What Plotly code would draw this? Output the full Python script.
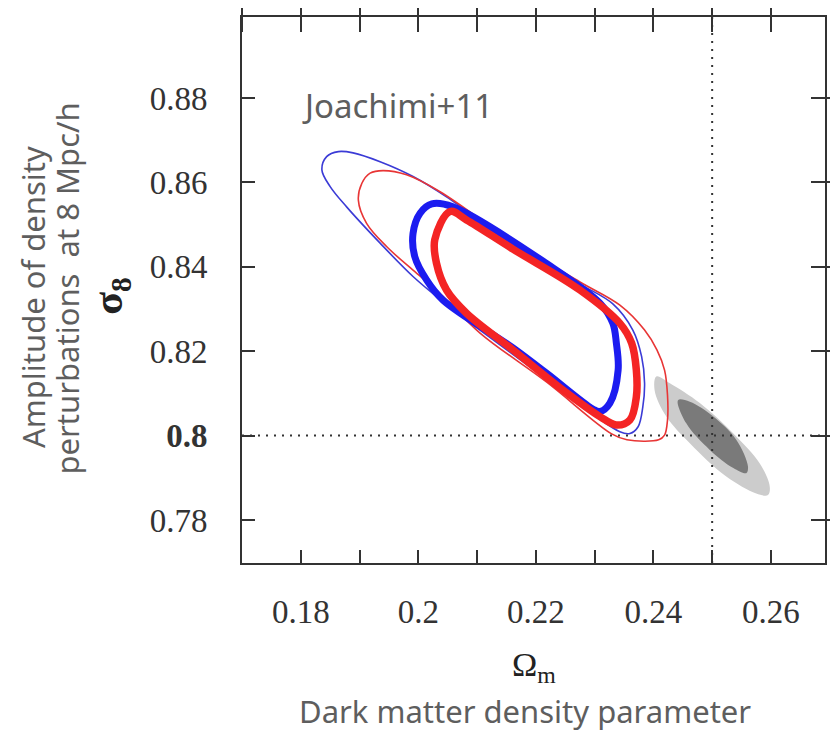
import plotly.graph_objects as go

# ---------------- data ----------------
omega_m_ticks = [0.18, 0.20, 0.22, 0.24, 0.26]
omega_m_ticktext = ["0.18", "0.2", "0.22", "0.24", "0.26"]
sigma8_ticks = [0.78, 0.80, 0.82, 0.84, 0.86, 0.88]
sigma8_ticktext = ["0.78", "<b>0.8</b>", "0.82", "0.84", "0.86", "0.88"]

fiducial_omega_m = 0.25
fiducial_sigma8 = 0.80

# outer (thin) blue contour
blue_outer_om = [0.1836, 0.1844, 0.1864, 0.1889, 0.1935, 0.1991, 0.2048, 0.2161, 0.2275, 0.2331,
                 0.2365, 0.2380, 0.2385, 0.2382, 0.2374, 0.2360, 0.2343, 0.2218, 0.2105, 0.2042,
                 0.1991, 0.1935, 0.1878, 0.1850, 0.1836]
blue_outer_s8 = [0.8629, 0.8661, 0.8673, 0.8670, 0.8649, 0.8614, 0.8566, 0.8454, 0.8359, 0.8312,
                 0.8250, 0.8187, 0.8124, 0.8068, 0.8021, 0.8005, 0.8009, 0.8134, 0.8250, 0.8317,
                 0.8377, 0.8456, 0.8542, 0.8590, 0.8629]

# outer (thin) red contour
red_outer_om = [0.1898, 0.1904, 0.1918, 0.1940, 0.1980, 0.2037, 0.2161, 0.2275, 0.2343, 0.2385,
                0.2406, 0.2419, 0.2424, 0.2424, 0.2419, 0.2409, 0.2355, 0.2329, 0.2218, 0.2105,
                0.2031, 0.1991, 0.1946, 0.1912, 0.1898]
red_outer_s8 = [0.8558, 0.8598, 0.8622, 0.8628, 0.8618, 0.8578, 0.8459, 0.8364, 0.8309, 0.8250,
                0.8203, 0.8155, 0.8096, 0.8037, 0.8001, 0.7990, 0.7990, 0.8004, 0.8127, 0.8243,
                0.8345, 0.8392, 0.8448, 0.8503, 0.8558]

# inner (thick) blue contour
blue_inner_om = [0.2023, 0.2003, 0.1991, 0.1994, 0.2014, 0.2042, 0.2161, 0.2218, 0.2297, 0.2309,
                 0.2326, 0.2340, 0.2337, 0.2331, 0.2309, 0.2218, 0.2059, 0.2023]
blue_inner_s8 = [0.8549, 0.8527, 0.8479, 0.8424, 0.8369, 0.8321, 0.8208, 0.8148, 0.8063, 0.8057,
                 0.8077, 0.8155, 0.8219, 0.8266, 0.8314, 0.8408, 0.8542, 0.8549]

# inner (thick) red contour
red_inner_om = [0.2054, 0.2028, 0.2031, 0.2048, 0.2082, 0.2161, 0.2246, 0.2309, 0.2337, 0.2360,
                0.2371, 0.2371, 0.2363, 0.2343, 0.2275, 0.2161, 0.2082, 0.2054]
red_inner_s8 = [0.8531, 0.8464, 0.8408, 0.8345, 0.8290, 0.8203, 0.8108, 0.8045, 0.8025, 0.8037,
                0.8092, 0.8155, 0.8219, 0.8266, 0.8345, 0.8442, 0.8511, 0.8531]

# grey filled regions
grey_outer_om = [0.2405, 0.2428, 0.2479, 0.2536, 0.2581, 0.2598, 0.2595, 0.2575, 0.2524, 0.2462,
                 0.2422, 0.2402, 0.2405]
grey_outer_s8 = [0.8140, 0.8124, 0.8077, 0.8005, 0.7934, 0.7879, 0.7859, 0.7863, 0.7903, 0.7982,
                 0.8045, 0.8108, 0.8140]
grey_inner_om = [0.2442, 0.2462, 0.2502, 0.2541, 0.2561, 0.2558, 0.2536, 0.2496, 0.2456, 0.2442]
grey_inner_s8 = [0.8084, 0.8080, 0.8045, 0.7990, 0.7926, 0.7911, 0.7923, 0.7966, 0.8029, 0.8084]

x_range = [0.17, 0.2692]
y_range = [0.7698, 0.8992]

# ---------------- figure ----------------
fig = go.Figure()

fig.add_trace(go.Scatter(x=grey_outer_om, y=grey_outer_s8, mode="lines", fill="toself",
                         fillcolor="#cccccc", line=dict(width=0, shape="spline", color="#cccccc"),
                         hoverinfo="skip"))
fig.add_trace(go.Scatter(x=grey_inner_om, y=grey_inner_s8, mode="lines", fill="toself",
                         fillcolor="#7a7a7a", line=dict(width=0, shape="spline", color="#7a7a7a"),
                         hoverinfo="skip"))
fig.add_trace(go.Scatter(x=blue_outer_om, y=blue_outer_s8, mode="lines",
                         line=dict(color="#3b3bd6", width=1.6, shape="spline")))
fig.add_trace(go.Scatter(x=red_outer_om, y=red_outer_s8, mode="lines",
                         line=dict(color="#e83535", width=1.6, shape="spline")))
fig.add_trace(go.Scatter(x=blue_inner_om, y=blue_inner_s8, mode="lines",
                         line=dict(color="#1c1cf0", width=7, shape="spline")))
fig.add_trace(go.Scatter(x=red_inner_om, y=red_inner_s8, mode="lines",
                         line=dict(color="#f42424", width=7.5, shape="spline")))

# dummy trace for the helper axes (crossing ticks on top and right)
fig.add_trace(go.Scatter(x=[], y=[], xaxis="x2", yaxis="y2", showlegend=False))

fig.add_vline(x=fiducial_omega_m, line=dict(color="#333333", width=2, dash="2px,6px"))
fig.add_hline(y=fiducial_sigma8, line=dict(color="#333333", width=2, dash="2px,6px"))

tickfont = dict(family="Liberation Serif", size=33, color="#333333")
sans = "Noto Sans"
sans_color = "#5e5e5e"

# the page body adds an 8px offset, so the canvas is 8px smaller
fig.update_layout(
    width=830, height=725,
    margin=dict(l=234, r=13, t=9, b=170, autoexpand=False),
    plot_bgcolor="white", paper_bgcolor="white",
    showlegend=False,
    xaxis=dict(range=x_range, tickmode="array", tickvals=omega_m_ticks, ticktext=omega_m_ticktext,
               ticks="inside", ticklen=13, tickwidth=1.5, tickcolor="#333333",
               showline=True, linecolor="#333333", linewidth=2, mirror=True, automargin=False,
               showgrid=False, zeroline=False, tickfont=tickfont, ticklabelstandoff=18,
               minor=dict(tickmode="linear", tick0=0.17, dtick=0.01, ticks="inside",
                          ticklen=13, tickwidth=1.5, tickcolor="#333333", showgrid=False)),
    yaxis=dict(range=y_range, tickmode="array", tickvals=sigma8_ticks, ticktext=sigma8_ticktext,
               ticks="inside", ticklen=13, tickwidth=1.5, tickcolor="#333333",
               showline=True, linecolor="#333333", linewidth=2, mirror=True, automargin=False,
               showgrid=False, zeroline=False, tickfont=tickfont, ticklabelstandoff=26),
    xaxis2=dict(range=x_range, overlaying="x", side="top", anchor="free", position=1 - 15 / 546,
                tickmode="linear", tick0=0.17, dtick=0.01, ticks="outside", ticklen=24,
                tickwidth=1.5, tickcolor="#333333", showticklabels=False, automargin=False,
                showline=False, showgrid=False, zeroline=False),
    yaxis2=dict(range=y_range, overlaying="y", side="right", anchor="free", position=1 - 15 / 583,
                tickmode="array", tickvals=sigma8_ticks, ticks="outside", ticklen=25,
                tickwidth=1.5, tickcolor="#333333", showticklabels=False, automargin=False,
                showline=False, showgrid=False, zeroline=False),
)

annotations = [
    dict(text="Joachimi+11", x=0.0995, y=0.837, xref="paper", yref="paper",
         xanchor="left", yanchor="middle", showarrow=False,
         font=dict(family=sans, size=33, color=sans_color)),
    dict(text="Ω<sub>m</sub>", x=0.5, y=-0.191, xref="paper", yref="paper",
         xanchor="center", yanchor="middle", showarrow=False,
         font=dict(family="Liberation Serif", size=34, color="#222222")),
    dict(text="Dark matter density parameter", x=0.4846, y=-0.271, xref="paper", yref="paper",
         xanchor="center", yanchor="middle", showarrow=False,
         font=dict(family=sans, size=31, color=sans_color)),
    dict(text="<b>σ<sub>8</sub></b>", x=-0.224, y=0.49, xref="paper", yref="paper",
         xanchor="center", yanchor="middle", showarrow=False, textangle=-90,
         font=dict(family="Liberation Serif", size=42, color="#222222")),
    dict(text="Amplitude of density", x=(33 - 242) / 583, y=(563 - 297) / 546,
         xref="paper", yref="paper", xanchor="center", yanchor="middle",
         showarrow=False, textangle=-90,
         font=dict(family=sans, size=31, color=sans_color)),
    dict(text="perturbations  at 8 Mpc/h", x=(66 - 242) / 583, y=(563 - 288.5) / 546,
         xref="paper", yref="paper", xanchor="center", yanchor="middle",
         showarrow=False, textangle=-90,
         font=dict(family=sans, size=31, color=sans_color)),
]
fig.update_layout(annotations=annotations)

fig.write_html("out.html")
